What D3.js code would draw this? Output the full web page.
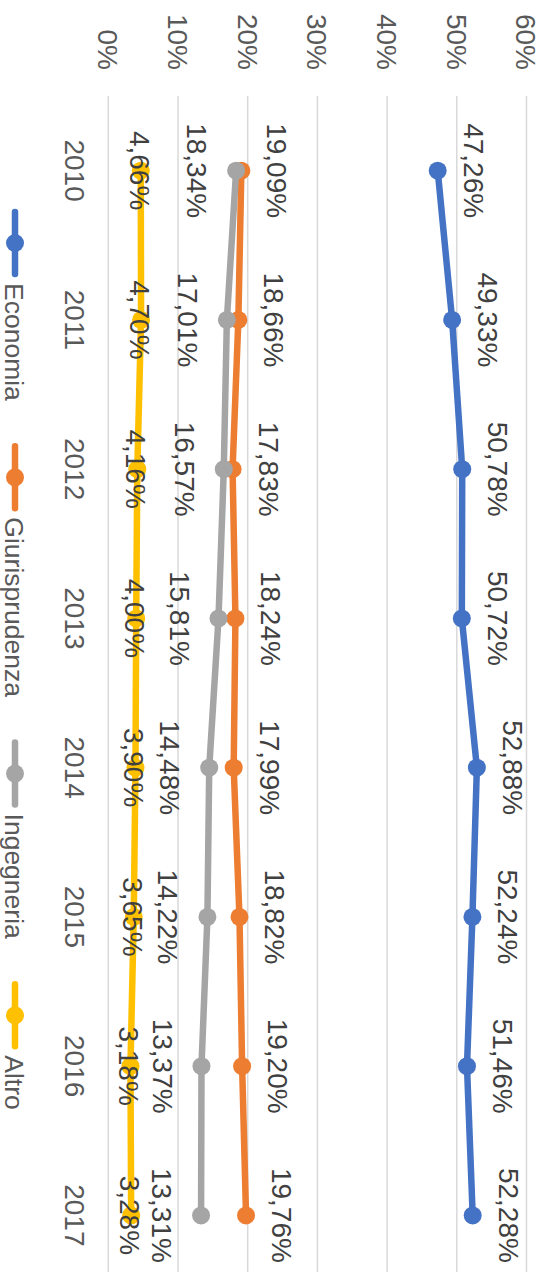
<!DOCTYPE html>
<html>
<head>
  <meta charset="utf-8">
  <style>
    body {
      margin: 0;
      background: #ffffff;
    }

    text {
      font-family: "Liberation Sans", Arial, sans-serif;
      fill: #595959;
    }
  </style>
</head>

<body>
  <svg id="chart"></svg>

  <script src="https://cdn.jsdelivr.net/npm/d3@7"></script>
  <script>
    var years = ["2010", "2011", "2012", "2013", "2014", "2015", "2016", "2017"];
    var economia = [47.26, 49.33, 50.78, 50.72, 52.88, 52.24, 51.46, 52.28];
    var giurisprudenza = [19.09, 18.66, 17.83, 18.24, 17.99, 18.82, 19.20, 19.76];
    var ingegneria = [18.34, 17.01, 16.57, 15.81, 14.48, 14.22, 13.37, 13.31];
    var altro = [4.66, 4.70, 4.16, 4.00, 3.90, 3.65, 3.18, 3.28];
    var yTicks = [0, 10, 20, 30, 40, 50, 60];

    var series = [
      { name: "Economia", values: economia, color: "#4472c4", label: "above" },
      { name: "Giurisprudenza", values: giurisprudenza, color: "#ed7d31", label: "above" },
      { name: "Ingegneria", values: ingegneria, color: "#a5a5a5", label: "below" },
      { name: "Altro", values: altro, color: "#ffc000", label: "center" }
    ];

    var width = 549,
        height = 1272;

    var svg = d3.select("#chart")
        .attr("width", width)
        .attr("height", height);

    // the chart is drawn as a normal landscape chart and then turned 90deg clockwise
    var g = svg.append("g")
        .attr("transform", "translate(" + width + ",0) rotate(90)");

    var x = d3.scaleBand().domain(years).range([96, 1290]);
    var y = d3.scaleLinear().domain([0, 60]).range([440.7, 22.5]);

    var it = d3.formatLocale({ decimal: ",", thousands: ".", grouping: [3], currency: ["", "€"] });
    var fmt = function (v) { return it.format(".2f")(v) + "%"; };

    // gridlines
    g.append("g").selectAll("line")
      .data(yTicks)
      .enter().append("line")
      .attr("x1", x.range()[0])
      .attr("x2", x.range()[1])
      .attr("y1", function (d) { return y(d); })
      .attr("y2", function (d) { return y(d); })
      .attr("stroke", "#d9d9d9")
      .attr("stroke-width", 1.5);

    // value axis labels
    g.append("g").selectAll("text")
      .data(yTicks)
      .enter().append("text")
      .attr("x", 70)
      .attr("y", function (d) { return y(d); })
      .attr("dy", "0.36em")
      .attr("text-anchor", "end")
      .attr("font-size", 28)
      .text(function (d) { return d + "%"; });

    // category labels
    g.append("g").selectAll("text")
      .data(years)
      .enter().append("text")
      .attr("x", function (d) { return x(d) + x.bandwidth() / 2; })
      .attr("y", 484)
      .attr("text-anchor", "middle")
      .attr("font-size", 28)
      .text(function (d) { return d; });

    var cx = function (d, i) { return x(years[i]) + x.bandwidth() / 2; };

    var line = d3.line()
      .x(cx)
      .y(function (d) { return y(d); });

    var labelOffset = { above: -26, below: 49, center: 11 };

    series.forEach(function (s) {
      var sg = g.append("g");

      sg.append("path")
        .datum(s.values)
        .attr("d", line)
        .attr("fill", "none")
        .attr("stroke", s.color)
        .attr("stroke-width", 6.5)
        .attr("stroke-linejoin", "round")
        .attr("stroke-linecap", "round");

      sg.selectAll("circle")
        .data(s.values)
        .enter().append("circle")
        .attr("cx", cx)
        .attr("cy", function (d) { return y(d); })
        .attr("r", 9)
        .attr("fill", s.color);

      sg.selectAll("text")
        .data(s.values)
        .enter().append("text")
        .attr("x", cx)
        .attr("y", function (d) { return y(d) + labelOffset[s.label]; })
        .attr("text-anchor", "middle")
        .attr("font-size", 28)
        .style("fill", "#404040")
        .text(fmt);
    });

    // legend
    var legend = g.append("g").attr("transform", "translate(0,534)");
    var lx = 212;
    series.forEach(function (s) {
      var item = legend.append("g").attr("transform", "translate(" + lx + ",0)");
      item.append("line")
        .attr("x1", 0).attr("x2", 62)
        .attr("stroke", s.color)
        .attr("stroke-width", 6.5)
        .attr("stroke-linecap", "round");
      item.append("circle")
        .attr("cx", 31)
        .attr("r", 9)
        .attr("fill", s.color);
      var t = item.append("text")
        .attr("x", 71)
        .attr("dy", "0.36em")
        .attr("font-size", 26.5)
        .text(s.name);
      lx += 71 + t.node().getComputedTextLength() + 45.5;
    });
  </script>
</body>
</html>
